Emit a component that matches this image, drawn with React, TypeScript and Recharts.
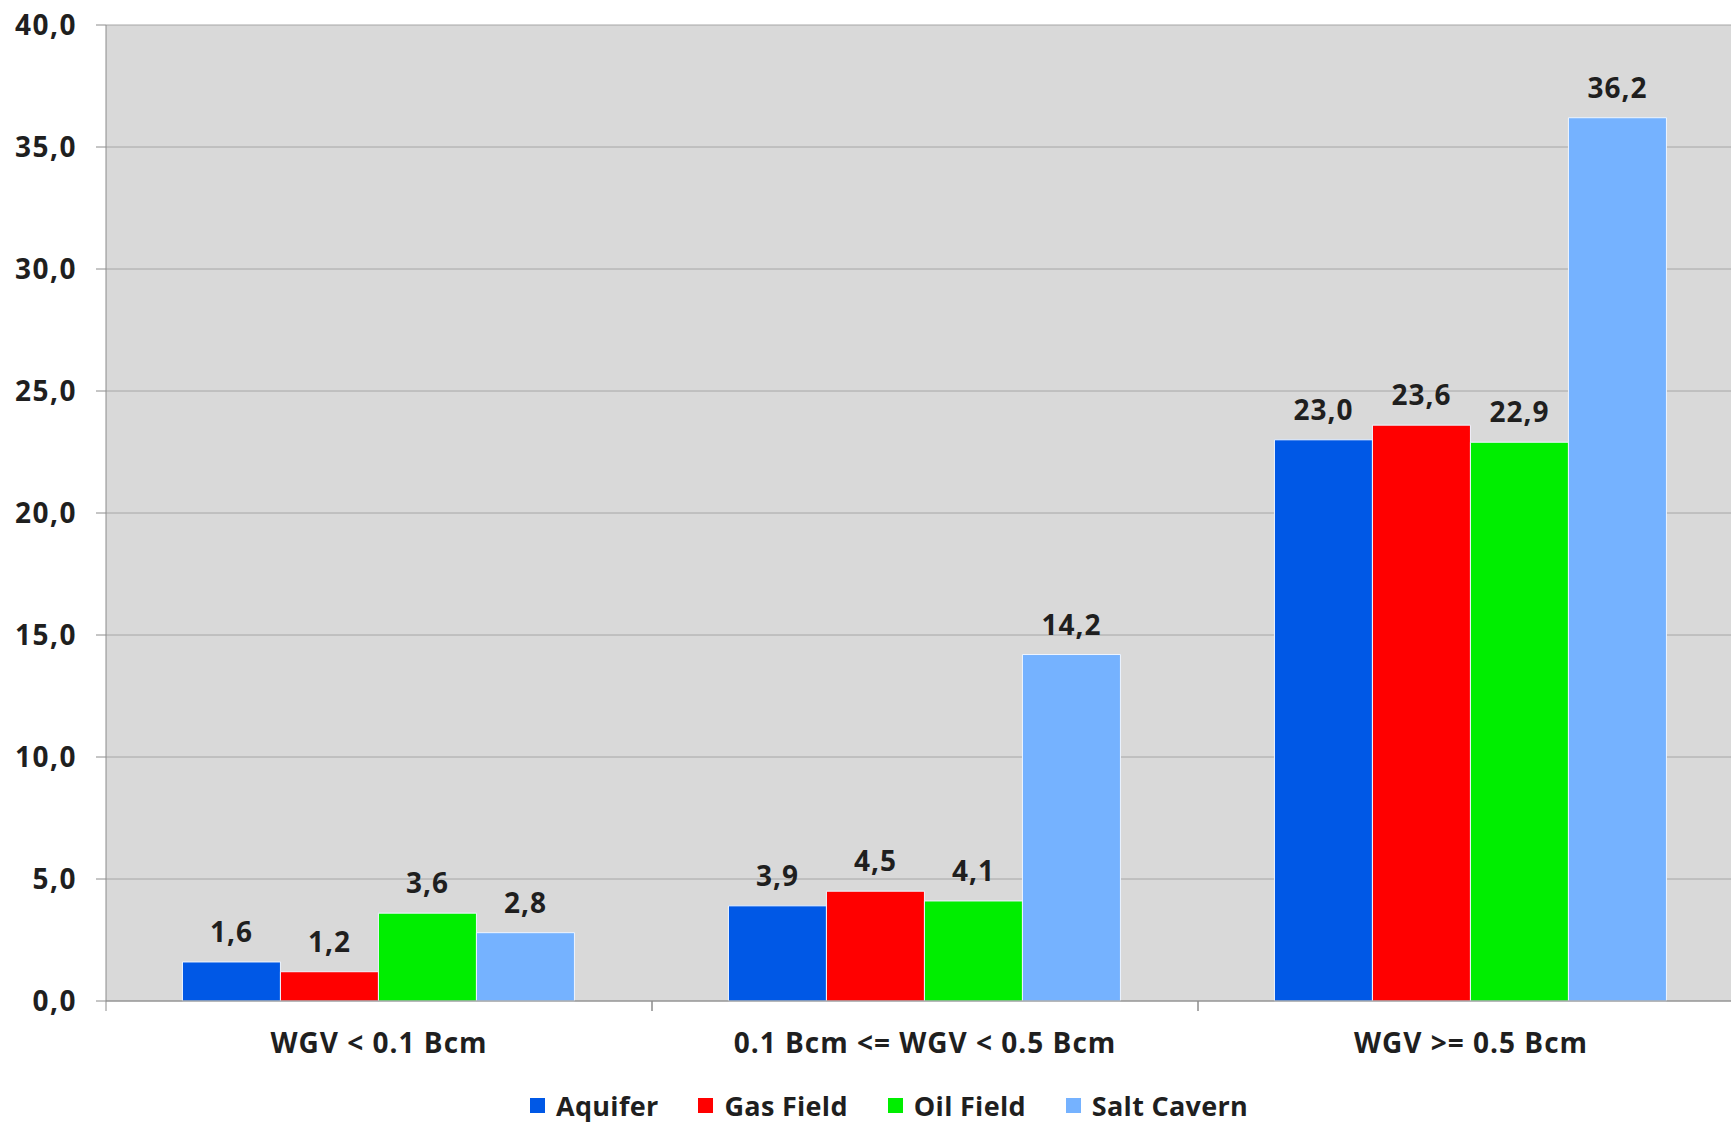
import React from "react";
import {
  BarChart,
  Bar,
  XAxis,
  YAxis,
  CartesianGrid,
  Legend,
  LabelList,
} from "recharts";

const categories = ["WGV < 0.1 Bcm", "0.1 Bcm <= WGV < 0.5 Bcm", "WGV >= 0.5 Bcm"];
const aquifer = [1.6, 3.9, 23.0];
const gasField = [1.2, 4.5, 23.6];
const oilField = [3.6, 4.1, 22.9];
const saltCavern = [2.8, 14.2, 36.2];
const yTicks = [0, 5, 10, 15, 20, 25, 30, 35, 40];

const series = [
  { key: "aquifer", name: "Aquifer", color: "#0058e6" },
  { key: "gasField", name: "Gas Field", color: "#ff0000" },
  { key: "oilField", name: "Oil Field", color: "#00ee00" },
  { key: "saltCavern", name: "Salt Cavern", color: "#75b2ff" },
];

const data = categories.map((name, i) => ({
  name,
  aquifer: aquifer[i],
  gasField: gasField[i],
  oilField: oilField[i],
  saltCavern: saltCavern[i],
}));

const FONT = "'Open Sans', sans-serif";
const comma = (v: any) => Number(v).toFixed(1).replace(".", ",");

// category label centred in the band, tick marks on the band edges
const CategoryTick = (props: any) => {
  const { x, y, payload, width, visibleTicksCount } = props;
  const half = width / visibleTicksCount / 2;
  return (
    <g>
      <line x1={x - half} y1={y} x2={x - half} y2={y + 10} stroke="#8c8c8c" />
      <line x1={x + half} y1={y} x2={x + half} y2={y + 10} stroke="#8c8c8c" />
      <text
        x={x}
        y={y + 52}
        textAnchor="middle"
        fontFamily={FONT}
        fontWeight={700}
        fontSize={28}
        letterSpacing={1}
        fill="#1f1f1f"
      >
        {payload.value}
      </text>
    </g>
  );
};

const LegendBox = () => (
  <div
    style={{
      display: "flex",
      alignItems: "center",
      fontFamily: FONT,
      fontWeight: 700,
      fontSize: 27,
      letterSpacing: 0.3,
      color: "#1f1f1f",
      whiteSpace: "nowrap",
    }}
  >
    {series.map((s) => (
      <div key={s.key} style={{ display: "flex", alignItems: "center", marginRight: 40 }}>
        <span style={{ width: 15, height: 15, background: s.color, marginRight: 11 }} />
        <span>{s.name}</span>
      </div>
    ))}
  </div>
);

export default function App() {
  return (
    <div
      style={{
        position: "absolute",
        left: 0,
        top: 0,
        width: 1731,
        height: 1124,
        overflow: "hidden",
        background: "#ffffff",
      }}
    >
      <BarChart
        width={1744}
        height={1124}
        data={data}
        margin={{ top: 25, right: 0, left: 0, bottom: 63 }}
        barCategoryGap="14%"
        barGap={0}
      >
        <CartesianGrid vertical={false} stroke="#a6a6a6" fill="#d9d9d9" />
        <XAxis
          dataKey="name"
          height={60}
          tickSize={0}
          tickMargin={0}
          interval={0}
          stroke="#8c8c8c"
          tick={<CategoryTick />}
        />
        <YAxis
          width={106}
          domain={[0, 40]}
          ticks={yTicks}
          tickSize={10}
          tickMargin={19}
          stroke="#8c8c8c"
          tickFormatter={comma}
          tick={{ fontFamily: FONT, fontWeight: 700, fontSize: 28, letterSpacing: 1.5, fill: "#1f1f1f" }}
        />
        <Legend
          layout="horizontal"
          verticalAlign="middle"
          align="center"
          content={<LegendBox />}
          wrapperStyle={{ top: 1087, left: 530, width: "auto" }}
        />
        {series.map((s) => (
          <Bar
            key={s.key}
            dataKey={s.key}
            name={s.name}
            fill={s.color}
            stroke="#eef5ff"
            strokeWidth={1}
            isAnimationActive={false}
          >
            <LabelList
              dataKey={s.key}
              position="top"
              offset={20}
              formatter={comma}
              fontFamily={FONT}
              fontWeight={700}
              fontSize={28}
              letterSpacing={1}
              fill="#1f1f1f"
            />
          </Bar>
        ))}
      </BarChart>
    </div>
  );
}
